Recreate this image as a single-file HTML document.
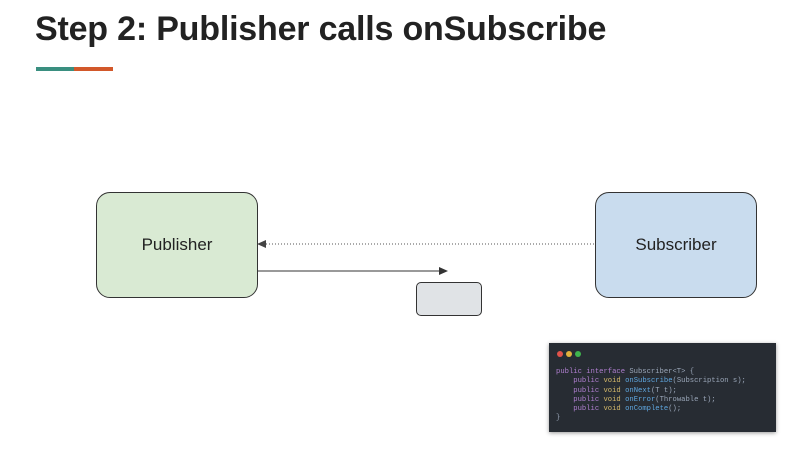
<!DOCTYPE html>
<html><head><style>
body{margin:0;width:811px;height:452px;background:#fff;position:relative;overflow:hidden;font-family:"Liberation Sans",sans-serif}
.t{position:absolute;left:35px;top:10px;font-size:34px;font-weight:bold;color:#222;letter-spacing:-0.2px}
.box{position:absolute;border:1px solid #333;border-radius:14px;display:flex;align-items:center;justify-content:center;font-size:17px;color:#222}
.code{position:absolute;left:549px;top:343px;width:227px;height:89px;background:#272c33;box-shadow:0 1px 4px #999;font-family:"Liberation Mono",monospace;font-size:7.2px;color:#9aa6b8;line-height:9.3px}
.d{position:absolute;top:8px;width:6px;height:6px;border-radius:50%}
.k{color:#b07fd0}.f{color:#5fa7e0}.y{color:#d4b86a}
</style></head><body>
<div class="t">Step 2: Publisher calls onSubscribe</div>
<div style="position:absolute;left:36px;top:67px;width:38px;height:4px;background:#3a8f80"></div>
<div style="position:absolute;left:74px;top:67px;width:39px;height:4px;background:#d2582a"></div>
<div class="box" style="left:96px;top:192px;width:160px;height:104px;background:#d9ead3">Publisher</div>
<div class="box" style="left:595px;top:192px;width:160px;height:104px;background:#c9dcee">Subscriber</div>
<div class="box" style="left:416px;top:282px;width:64px;height:32px;border-radius:5px;background:#e0e3e6"></div>
<svg style="position:absolute;left:0;top:0" width="811" height="452">
<line x1="266" y1="244" x2="594" y2="244" stroke="#555" stroke-dasharray="1,2"/>
<polygon points="257,244 266,240 266,248" fill="#444"/>
<line x1="257" y1="271" x2="440" y2="271" stroke="#333"/>
<polygon points="448,271 439,267 439,275" fill="#333"/>
</svg>
<div class="code">
<div class="d" style="left:8px;background:#e0524a"></div>
<div class="d" style="left:17px;background:#e2b13c"></div>
<div class="d" style="left:26px;background:#3fb44d"></div>
<div style="position:absolute;left:7px;top:25px;white-space:pre"><span class="k">public interface</span> Subscriber&lt;T&gt; {
    <span class="k">public</span> <span class="y">void</span> <span class="f">onSubscribe</span>(Subscription s);
    <span class="k">public</span> <span class="y">void</span> <span class="f">onNext</span>(T t);
    <span class="k">public</span> <span class="y">void</span> <span class="f">onError</span>(Throwable t);
    <span class="k">public</span> <span class="y">void</span> <span class="f">onComplete</span>();
}</div>
</div>
</body></html>
